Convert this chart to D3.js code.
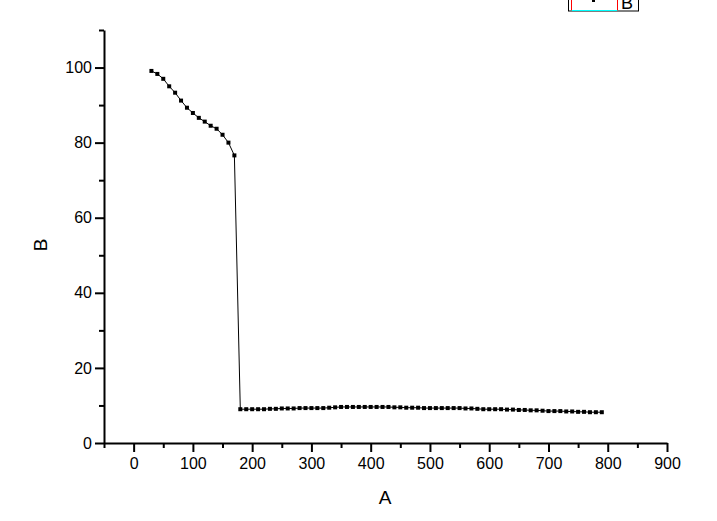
<!DOCTYPE html>
<html>
<head>
<meta charset="utf-8">
<script src="https://cdn.jsdelivr.net/npm/d3@7"></script>
<style>
  body { margin: 0; background: #fff; }
  text { font-family: "Liberation Sans", Arial, sans-serif; fill: #000; }
</style>
</head>
<body>
<div id="chart"></div>
<script>
// data
var xVals = [30, 40, 50, 60, 70, 80, 90, 100, 110, 120, 130, 140, 150, 160, 170,
  180, 190, 200, 210, 220, 230, 240, 250, 260, 270, 280, 290, 300, 310, 320,
  330, 340, 350, 360, 370, 380, 390, 400, 410, 420, 430, 440, 450, 460, 470,
  480, 490, 500, 510, 520, 530, 540, 550, 560, 570, 580, 590, 600, 610, 620,
  630, 640, 650, 660, 670, 680, 690, 700, 710, 720, 730, 740, 750, 760, 770,
  780, 790];
var yVals = [99.1, 98.3, 97.0, 95.0, 93.3, 91.2, 89.3, 87.9, 86.6, 85.6, 84.5, 83.7, 82.1, 80.0, 76.6,
  9.0, 9.0, 9.0, 9.0, 9.0, 9.1, 9.1, 9.2, 9.2, 9.2, 9.3, 9.3, 9.3, 9.3, 9.3,
  9.4, 9.5, 9.6, 9.6, 9.6, 9.6, 9.6, 9.6, 9.6, 9.6, 9.6, 9.5, 9.5, 9.4, 9.4,
  9.4, 9.3, 9.3, 9.3, 9.3, 9.3, 9.3, 9.3, 9.2, 9.2, 9.1, 9.0, 9.0, 9.0, 9.0,
  8.9, 8.9, 8.8, 8.8, 8.7, 8.7, 8.6, 8.5, 8.5, 8.5, 8.4, 8.4, 8.3, 8.3, 8.2,
  8.2, 8.2];
var xTicks = [0, 100, 200, 300, 400, 500, 600, 700, 800, 900];
var xMinor = [-50, 50, 150, 250, 350, 450, 550, 650, 750, 850];
var yTicks = [0, 20, 40, 60, 80, 100];
var yMinor = [10, 30, 50, 70, 90, 110];
var xTitle = "A";
var yTitle = "B";

var data = xVals.map((d, i) => ({ x: d, y: yVals[i] }));

var svg = d3.select("#chart")
  .append("svg")
    .attr("width", 717)
    .attr("height", 521);

var x = d3.scaleLinear().domain([-50, 900]).range([104, 667]);
var y = d3.scaleLinear().domain([0, 110]).range([443, 30]);

// minor ticks
svg.append("g")
  .attr("transform", "translate(0,443)")
  .call(d3.axisBottom(x).tickValues(xMinor).tickSize(5).tickFormat(""))
  .call(g => g.select(".domain").remove())
  .selectAll("line").attr("stroke-width", 2);

svg.append("g")
  .attr("transform", "translate(104,0)")
  .call(d3.axisLeft(y).tickValues(yMinor).tickSize(5).tickFormat(""))
  .call(g => g.select(".domain").remove())
  .selectAll("line").attr("stroke-width", 2);

// X axis
var gx = svg.append("g")
  .attr("transform", "translate(0,443)")
  .call(d3.axisBottom(x).tickValues(xTicks).tickSize(9).tickSizeOuter(0).tickPadding(6));
gx.select(".domain").attr("stroke-width", 2);
gx.selectAll("line").attr("stroke-width", 2);
gx.selectAll("text").style("font-size", "16px").attr("fill", "#000");

// Y axis
var gy = svg.append("g")
  .attr("transform", "translate(104,0)")
  .call(d3.axisLeft(y).tickValues(yTicks).tickSize(9).tickSizeOuter(0).tickPadding(3));
gy.select(".domain").attr("stroke-width", 2);
gy.selectAll("line").attr("stroke-width", 2);
gy.selectAll("text").style("font-size", "16px").attr("fill", "#000");

// axis titles
svg.append("text")
  .attr("x", 385)
  .attr("y", 504)
  .attr("text-anchor", "middle")
  .style("font-size", "19px")
  .text(xTitle);

svg.append("text")
  .attr("transform", "translate(47,245) rotate(-90)")
  .attr("text-anchor", "middle")
  .style("font-size", "19px")
  .text(yTitle);

// the line
svg.append("path")
  .datum(data)
  .attr("fill", "none")
  .attr("stroke", "#000")
  .attr("stroke-width", 1)
  .attr("d", d3.line()
    .x((d) => x(d.x))
    .y((d) => y(d.y)));

// square markers
svg.selectAll(".pt")
  .data(data)
  .enter()
  .append("rect")
    .attr("class", "pt")
    .attr("x", (d) => x(d.x) - 2)
    .attr("y", (d) => y(d.y) - 2)
    .attr("width", 4)
    .attr("height", 4)
    .attr("fill", "#000");

// legend box, mostly cut off at the top
var leg = svg.append("g");
leg.append("rect")
  .attr("x", 568.5).attr("y", -20).attr("width", 70).attr("height", 31)
  .attr("fill", "#fff").attr("stroke", "#000");
leg.append("line")
  .attr("x1", 571.5).attr("x2", 571.5).attr("y1", 0).attr("y2", 11)
  .attr("stroke", "red");
leg.append("line")
  .attr("x1", 617.5).attr("x2", 617.5).attr("y1", 0).attr("y2", 11)
  .attr("stroke", "red");
leg.append("line")
  .attr("x1", 571.5).attr("x2", 617.5).attr("y1", 10.5).attr("y2", 10.5)
  .attr("stroke", "cyan");
leg.append("rect")
  .attr("x", 592).attr("y", -1).attr("width", 3).attr("height", 3)
  .attr("fill", "#000");
leg.append("text")
  .attr("x", 621).attr("y", 9)
  .style("font-size", "18px")
  .text(yTitle);
</script>
</body>
</html>
